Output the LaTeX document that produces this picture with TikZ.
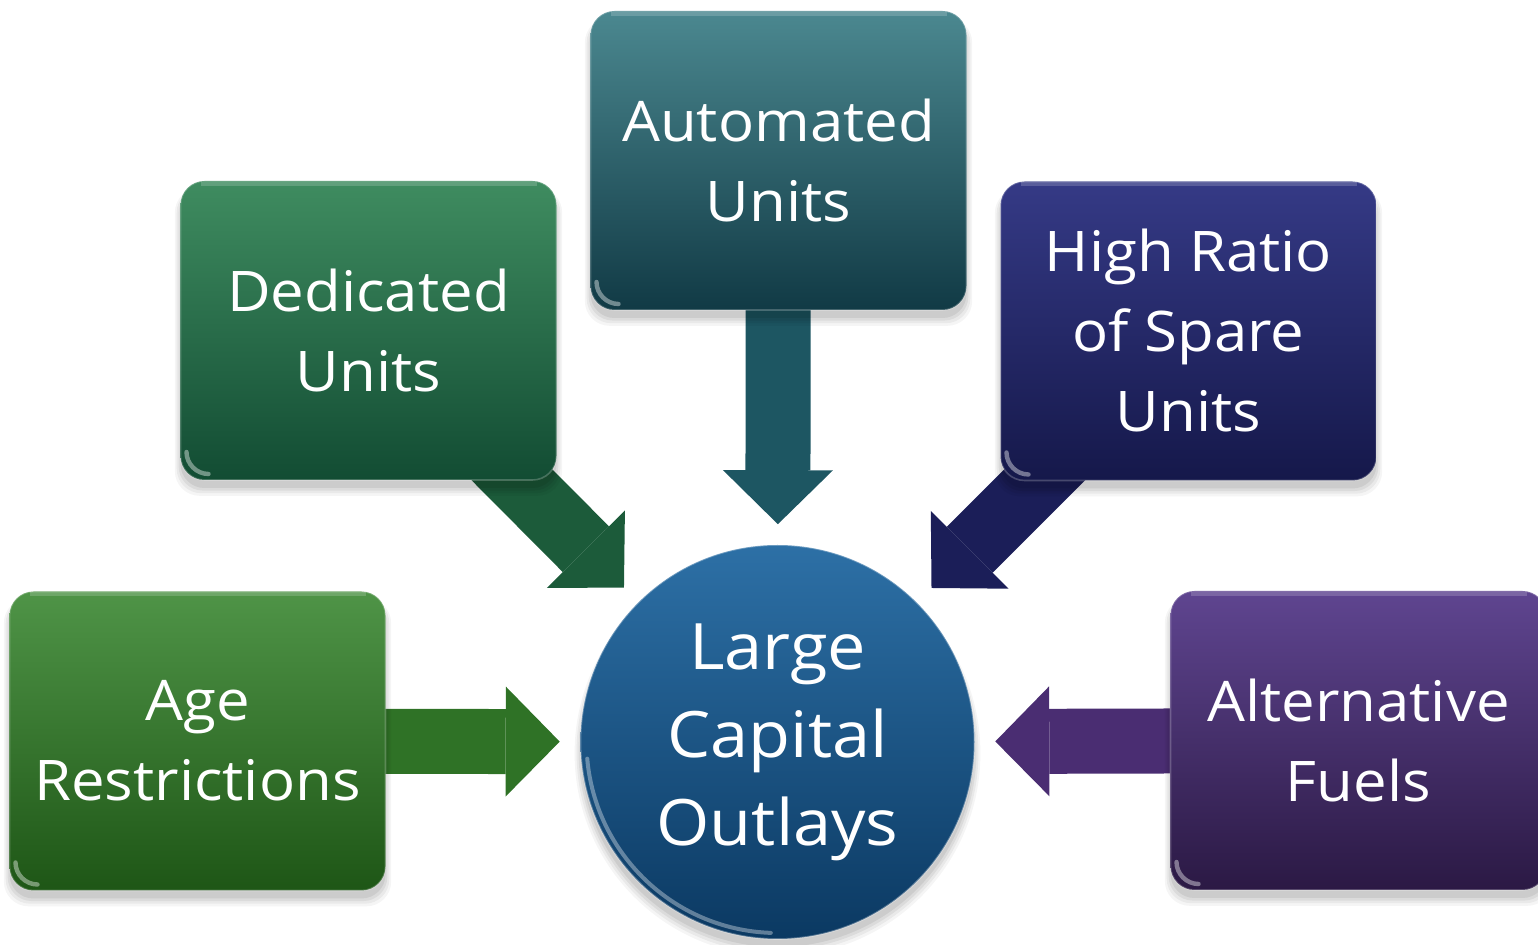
\documentclass[tikz,border=0pt]{standalone}
\usepackage{fontspec}
\setmainfont[FakeStretch=1.07]{Open Sans}
\usetikzlibrary{arrows.meta,shadows}

% palette
\definecolor{ageTop}{HTML}{4F9447}\definecolor{ageBot}{HTML}{1E5616}\definecolor{ageArr}{HTML}{2F7226}
\definecolor{dedTop}{HTML}{3F8C60}\definecolor{dedBot}{HTML}{124C33}\definecolor{dedArr}{HTML}{1C5B3A}
\definecolor{autTop}{HTML}{4B8890}\definecolor{autBot}{HTML}{113A45}\definecolor{autArr}{HTML}{1D5662}
\definecolor{hiTop}{HTML}{353A86}\definecolor{hiBot}{HTML}{15184A}\definecolor{hiArr}{HTML}{1B1E58}
\definecolor{altTop}{HTML}{5F4590}\definecolor{altBot}{HTML}{2B1944}\definecolor{altArr}{HTML}{4A2D72}
\definecolor{hubTop}{HTML}{2D70A6}\definecolor{hubBot}{HTML}{0B3962}

\pgfdeclarelayer{arrowlayer}
\pgfsetlayers{arrowlayer,main}

\begin{document}
\begin{tikzpicture}[x=0.5pt,y=-0.5pt,
  softshadow/.style={
    general shadow={shadow yshift=-4pt, shadow scale=1.00, opacity=0.07, fill=black},
    general shadow={shadow yshift=-4.5pt, shadow scale=1.01, opacity=0.06, fill=black},
    general shadow={shadow yshift=-5pt, shadow scale=1.02, opacity=0.05, fill=black},
    general shadow={shadow yshift=-5.5pt, shadow scale=1.03, opacity=0.04, fill=black}},
  gloss/.style={path picture={
    \draw[white, opacity=0.4, line width=2.2pt, line cap=round]
      ([xshift=3pt, yshift=14pt]path picture bounding box.south west)
      .. controls ([xshift=3pt, yshift=8pt]path picture bounding box.south west)
      and ([xshift=8pt, yshift=3pt]path picture bounding box.south west)
      .. ([xshift=14pt, yshift=3pt]path picture bounding box.south west);
    \draw[white, opacity=0.18, line width=2pt]
      ([xshift=10pt, yshift=-1.5pt]path picture bounding box.north west)
      -- ([xshift=-10pt, yshift=-1.5pt]path picture bounding box.north east);}},
  rimgloss/.style={path picture={
    \draw[white, opacity=0.35, line width=2pt, line cap=round]
      (path picture bounding box.center) ++(185:95.5pt)
      arc[start angle=185, end angle=268, radius=95.5pt];}},
  card/.style={rectangle, rounded corners=12pt, minimum width=188pt, minimum height=149.5pt,
    inner sep=0pt, align=center, text=white, font=\fontsize{28}{40}\selectfont,
    draw=white, draw opacity=0.22, line width=0.8pt, softshadow, gloss},
  hubnode/.style={circle, minimum size=197pt, inner sep=0pt, align=center, text=white,
    font=\fontsize{32}{44}\selectfont, top color=hubTop, bottom color=hubBot,
    draw=white, draw opacity=0.3, line width=0.8pt, softshadow, rimgloss},
  feed/.style={line width=32.5pt, shorten >=10pt,
    -{Triangle[width=55pt,length=27pt,line width=0pt]}}
]
\useasboundingbox (0,0) rectangle (1538,945);
\clip (0,0) rectangle (1538,945);

% centre
\node[hubnode] (hub) at (777.5,742) {Large\\Capital\\Outlays};

% surrounding factors
\node[card, top color=ageTop, bottom color=ageBot] (age) at (197.5,741) {Age\\Restrictions};
\node[card, top color=dedTop, bottom color=dedBot] (ded) at (368.5,330.5) {Dedicated\\Units};
\node[card, top color=autTop, bottom color=autBot] (aut) at (778.5,160.5) {Automated\\Units};
\node[card, top color=hiTop, bottom color=hiBot] (hi) at (1188.5,331) {High Ratio\\of Spare\\Units};
\node[card, top color=altTop, bottom color=altBot] (alt) at (1358.5,740.5) {Alternative\\Fuels};

% block arrows into the centre
\begin{pgfonlayer}{arrowlayer}
\draw[feed, ageArr] (age.center) -- (hub);
\draw[feed, dedArr] (ded.center) -- (hub);
\draw[feed, autArr] (aut.center) -- (hub);
\draw[feed, hiArr] (hi.center) -- (hub);
\draw[feed, altArr] (alt.center) -- (hub);
\end{pgfonlayer}
\end{tikzpicture}
\end{document}
